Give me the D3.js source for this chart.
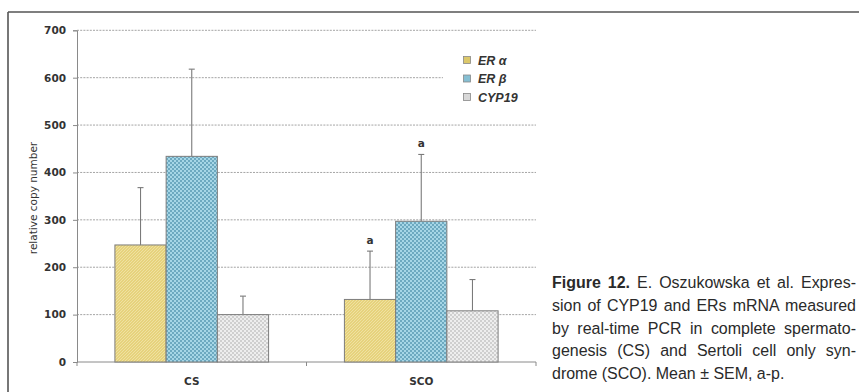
<!DOCTYPE html>
<html>
<head>
<meta charset="utf-8">
<script src="https://cdn.jsdelivr.net/npm/d3@7"></script>
<style>
  html, body { margin: 0; padding: 0; background: #fff; }
  svg { display: block; }
</style>
</head>
<body>
<svg id="fig" width="859" height="392"></svg>
<script>
// Groups, series and values (relative copy number, mean and SEM)
const groups = ["CS", "SCO"];
const series = ["ER α", "ER β", "CYP19"];
const meanCS = [247, 434, 100];
const meanSCO = [132, 297, 108];
const semCS = [121, 184, 39];
const semSCO = [102, 141, 66];
const yTicks = [0, 100, 200, 300, 400, 500, 600, 700];
// significance marks: [group, series, label]
const marks = [["SCO", "ER α", "a"], ["SCO", "ER β", "a"]];
const caption = [
  ["Figure 12.", " E. Oszukowska et al. Expres-"],
  ["", "sion of CYP19 and ERs mRNA measured"],
  ["", "by real-time PCR in complete spermato-"],
  ["", "genesis (CS) and Sertoli cell only syn-"],
  ["", "drome (SCO). Mean ± SEM, a-p."]
];

const means = { CS: meanCS, SCO: meanSCO };
const sems = { CS: semCS, SCO: semSCO };
const rows = groups.flatMap(g => series.map((s, i) => ({ g, s, v: means[g][i], e: sems[g][i] })));

const svg = d3.select("#fig");
const frameC = "#555";

// outer frame (top and left edges)
svg.append("line").attr("x1", 8).attr("x2", 859).attr("y1", 12).attr("y2", 12)
  .attr("stroke", frameC).attr("stroke-width", 1.6);
svg.append("line").attr("x1", 8).attr("x2", 8).attr("y1", 12).attr("y2", 392)
  .attr("stroke", frameC).attr("stroke-width", 1.6);

// fill patterns
const defs = svg.append("defs");
const pA = defs.append("pattern").attr("id", "pA").attr("patternUnits", "userSpaceOnUse")
  .attr("width", 3).attr("height", 3);
pA.append("rect").attr("width", 3).attr("height", 3).attr("fill", "#e6d27c");
pA.append("path").attr("d", "M0,3 L3,0").attr("stroke", "#f1e5aa").attr("stroke-width", 0.8);

const pB = defs.append("pattern").attr("id", "pB").attr("patternUnits", "userSpaceOnUse")
  .attr("width", 4).attr("height", 4);
pB.append("rect").attr("width", 4).attr("height", 4).attr("fill", "#a6d6e6");
pB.append("rect").attr("width", 2).attr("height", 2).attr("fill", "#6da9c0");
pB.append("rect").attr("x", 2).attr("y", 2).attr("width", 2).attr("height", 2).attr("fill", "#6da9c0");

const pC = defs.append("pattern").attr("id", "pC").attr("patternUnits", "userSpaceOnUse")
  .attr("width", 4).attr("height", 4);
pC.append("rect").attr("width", 4).attr("height", 4).attr("fill", "#eeeeee");
pC.append("rect").attr("width", 2).attr("height", 2).attr("fill", "#cfcfcf");
pC.append("rect").attr("x", 2).attr("y", 2).attr("width", 2).attr("height", 2).attr("fill", "#cfcfcf");

const fills = d3.scaleOrdinal().domain(series).range(["url(#pA)", "url(#pB)", "url(#pC)"]);
const swatch = d3.scaleOrdinal().domain(series).range(["#dcc86a", "#86bfd3", "#d8d8d8"]);

// scales
const x0 = d3.scaleBand().domain(groups).range([77, 536]).padding(0);
const x1 = d3.scaleBand().domain(series).range([0, x0.bandwidth()])
  .paddingInner(0).paddingOuter(0.74);
const y = d3.scaleLinear().domain([0, 700]).range([362, 30.3]);

const tickFont = "'DejaVu Sans', Verdana, sans-serif";
const axisC = "#8a8a8a";

// dotted gridlines
svg.append("g").selectAll("line").data(yTicks.filter(t => t > 0)).join("line")
  .attr("x1", 77).attr("x2", 536)
  .attr("y1", d => y(d)).attr("y2", d => y(d))
  .attr("stroke", "#9a9a9a").attr("stroke-width", 0.9).attr("stroke-dasharray", "2,1.2");

// y axis
const yAxis = svg.append("g").attr("transform", "translate(77,0)")
  .call(d3.axisLeft(y).tickValues(yTicks).tickSize(4).tickPadding(7));
yAxis.select(".domain").attr("stroke", axisC);
yAxis.selectAll(".tick line").attr("stroke", axisC);
yAxis.selectAll(".tick text").attr("font-family", tickFont).attr("font-weight", "bold")
  .attr("font-size", 10.5).attr("fill", "#333");

// x axis with ticks between categories
svg.append("line").attr("x1", 77).attr("x2", 536).attr("y1", y(0)).attr("y2", y(0))
  .attr("stroke", axisC).attr("stroke-width", 1);
const bounds = [x0.range()[0], ...groups.map(g => x0(g) + x0.bandwidth())];
svg.append("g").selectAll("line").data(bounds).join("line")
  .attr("x1", d => d).attr("x2", d => d).attr("y1", y(0)).attr("y2", y(0) + 4)
  .attr("stroke", axisC);
svg.append("g").selectAll("text").data(groups).join("text")
  .attr("x", d => x0(d) + x0.bandwidth() / 2).attr("y", 385)
  .attr("text-anchor", "middle").attr("font-family", tickFont).attr("font-weight", "bold")
  .attr("font-size", 10.5).attr("fill", "#333").text(d => d);

// y axis title
svg.append("text").attr("transform", "translate(37,198) rotate(-90)")
  .attr("text-anchor", "middle").attr("font-family", tickFont).attr("font-size", 10.5)
  .attr("fill", "#333").text("relative copy number");

// error bars (upper only)
const eb = svg.append("g").attr("stroke", "#7a7a7a").attr("stroke-width", 1.1);
rows.forEach(d => {
  const cx = x0(d.g) + x1(d.s) + x1.bandwidth() / 2;
  eb.append("line").attr("x1", cx).attr("x2", cx).attr("y1", y(d.v)).attr("y2", y(d.v + d.e));
  eb.append("line").attr("x1", cx - 3).attr("x2", cx + 3).attr("y1", y(d.v + d.e)).attr("y2", y(d.v + d.e));
});

// bars
svg.append("g").selectAll("rect").data(rows).join("rect")
  .attr("x", d => x0(d.g) + x1(d.s))
  .attr("y", d => y(d.v))
  .attr("width", x1.bandwidth())
  .attr("height", d => y(0) - y(d.v))
  .attr("fill", d => fills(d.s))
  .attr("stroke", "#7d7d7d").attr("stroke-width", 1);

// significance letters
marks.forEach(([g, s, t]) => {
  const i = series.indexOf(s);
  const top = means[g][i] + sems[g][i];
  svg.append("text")
    .attr("x", x0(g) + x1(s) + x1.bandwidth() / 2).attr("y", y(top) - 7)
    .attr("text-anchor", "middle").attr("font-family", tickFont).attr("font-weight", "bold")
    .attr("font-size", 10.5).attr("fill", "#333").text(t);
});

// legend
const lg = svg.append("g");
lg.append("rect").attr("x", 443).attr("y", 42).attr("width", 93).attr("height", 70).attr("fill", "#fff");
series.forEach((s, i) => {
  const yy = 60 + i * 18.5;
  lg.append("rect").attr("x", 463.5).attr("y", yy - 3.5).attr("width", 7).attr("height", 7)
    .attr("fill", swatch(s)).attr("stroke", "#888").attr("stroke-width", 0.8);
  lg.append("text").attr("x", 478).attr("y", yy + 4.5)
    .attr("font-family", "'Liberation Sans', Arial, sans-serif").attr("font-weight", "bold")
    .attr("font-style", "italic").attr("font-size", 12.5).attr("fill", "#333").text(s);
});

// figure caption, justified, set in a slightly condensed sans
const capLeft = 552, capRight = 856, squeeze = 0.94;
const cap = svg.append("g").attr("transform", `translate(${capLeft},0) scale(${squeeze},1)`);
caption.forEach((ln, i) => {
  const t = cap.append("text").attr("x", 0).attr("y", 288.5 + i * 22.6)
    .attr("font-family", "'Liberation Sans', Arial, sans-serif").attr("font-size", 17)
    .attr("fill", "#2a2a2a");
  if (ln[0]) t.append("tspan").attr("font-weight", "bold").text(ln[0]);
  t.append("tspan").text(ln[1]);
  if (i < caption.length - 1) {
    const w = t.node().getComputedTextLength();
    const spaces = (ln[0] + ln[1]).split(" ").length - 1;
    if (spaces > 0) t.attr("word-spacing", ((capRight - capLeft) / squeeze - w) / spaces);
  }
});
</script>
</body>
</html>
